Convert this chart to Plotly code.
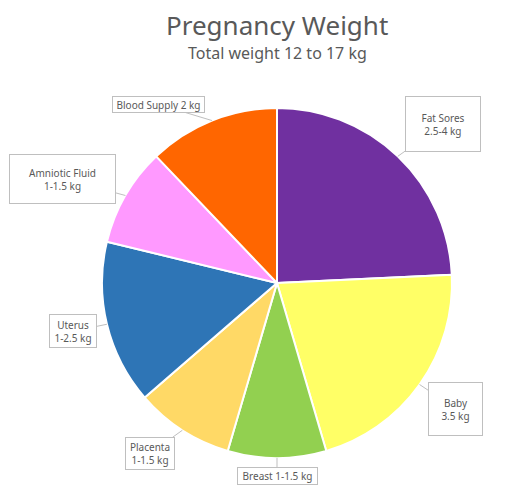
import numpy as np
import plotly.graph_objects as go

# data (clockwise from 12 o'clock)
parts = ["Fat Sores", "Baby", "Breast", "Placenta", "Uterus", "Amniotic Fluid", "Blood Supply"]
weights = [4, 3.5, 1.5, 1.5, 2.5, 1.5, 2]
ranges = ["2.5-4 kg", "3.5 kg", "1-1.5 kg", "1-1.5 kg", "1-2.5 kg", "1-1.5 kg", "2 kg"]

colors = ["#7030A0", "#FFFF66", "#92D050", "#FFD966", "#2E75B6", "#FF99FF", "#FF6600"]

W, H = 506, 496
OFF = 8  # page body margin
cx, cy, rad = 277 - OFF, 283 - OFF, 175  # pie centre / radius in px

# callout boxes: offset of box centre from tip (px), box size, single line?
callouts = {
    "Fat Sores": (45, -32, 76, 56, False),
    "Baby": (36, 24, 55, 54, False),
    "Breast": (0, 18, 81, 18, True),
    "Placenta": (-32, 23, 50, 33, False),
    "Uterus": (-34, 7, 48, 34, False),
    "Amniotic Fluid": (-63, -17, 107, 50, False),
    "Blood Supply": (-53, -16, 93, 17, True),
}

fig = go.Figure(go.Pie(
    labels=parts, values=weights, sort=False, direction="clockwise", rotation=0,
    marker=dict(colors=colors, line=dict(color="white", width=2)),
    textinfo="none", hoverinfo="label+value", showlegend=False,
    domain=dict(x=[(cx - rad) / W, (cx + rad) / W],
                y=[(H - cy - rad) / H, (H - cy + rad) / H]),
))

total = sum(weights)
start = 0.0
for name, w, rng in zip(parts, weights, ranges):
    mid = (start + w / 2) / total * 2 * np.pi
    start += w
    tx = cx + rad * np.sin(mid)
    ty = cy - rad * np.cos(mid)
    dx, dy, bw, bh, one_line = callouts[name]
    text = f"{name} {rng}" if one_line else f"{name}<br>{rng}"
    fig.add_annotation(
        x=tx / W, y=1 - ty / H, xref="paper", yref="paper",
        ax=dx, ay=dy, text=text, showarrow=True,
        arrowhead=0, arrowwidth=1, arrowcolor="#BFBFBF",
        bordercolor="#BFBFBF", borderwidth=1, borderpad=0,
        bgcolor="white", width=bw - 2, height=bh - 2,
        font=dict(family="Noto Sans", size=10, color="#595959"),
    )

fig.add_annotation(x=(277 - OFF) / W, y=1 - (25 - OFF) / H, xref="paper", yref="paper",
                   yanchor="middle", text="Pregnancy Weight", showarrow=False,
                   font=dict(family="Noto Sans", size=26, color="#595959"))
fig.add_annotation(x=(277 - OFF) / W, y=1 - (53 - OFF) / H, xref="paper", yref="paper",
                   yanchor="middle", text="Total weight 12 to 17 kg", showarrow=False,
                   font=dict(family="Noto Sans", size=16, color="#595959"))

fig.update_layout(width=W, height=H, margin=dict(l=0, r=0, t=0, b=0),
                  paper_bgcolor="white", plot_bgcolor="white")

fig.write_html("out.html")
